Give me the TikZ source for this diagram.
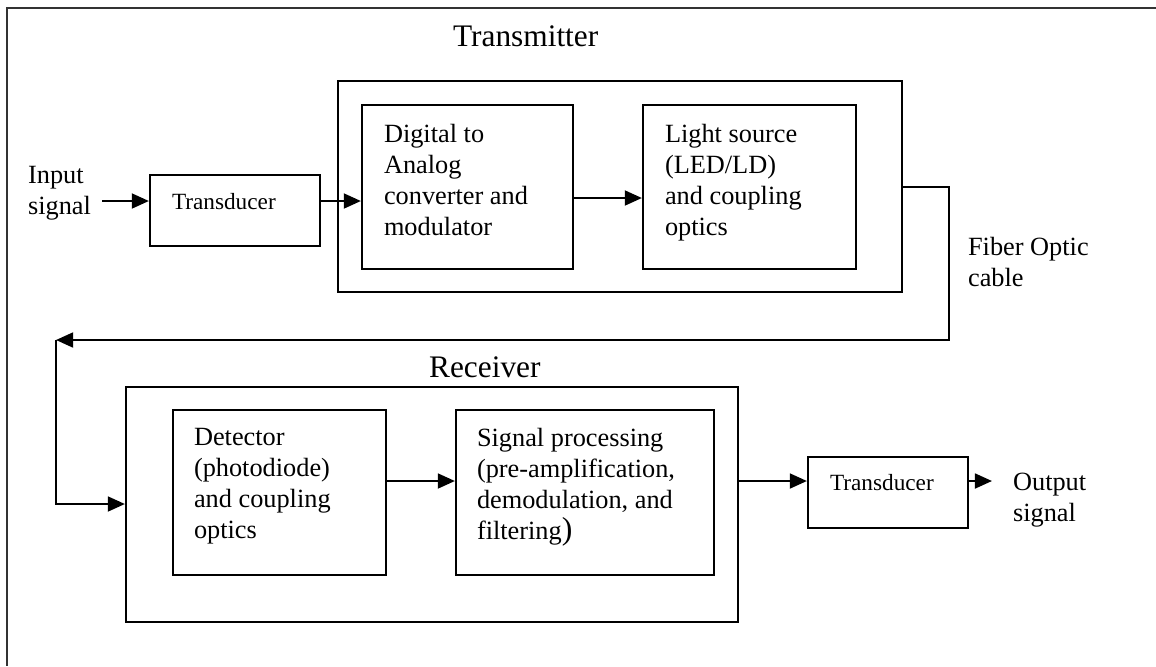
\documentclass[tikz,border=0pt]{standalone}
\usepackage{fontspec}
\setmainfont{Liberation Serif}
\usetikzlibrary{arrows.meta,fit}

\tikzset{
  blk/.style={draw, inner sep=0pt},
  txt/.style={anchor=north west, inner sep=0pt, align=left, font=\fontsize{12}{14.1}\selectfont},
  small/.style={txt, font=\fontsize{10.6}{12}\selectfont},
  head/.style={txt, font=\fontsize{14.3}{16}\selectfont},
  arr/.style={-{Triangle[length=7.8pt,width=6.8pt]}}
}

\begin{document}
\begin{tikzpicture}[x=0.456pt, y=-0.456pt, line width=1pt]
   \useasboundingbox (0,0) rectangle (1156,666);
   % page frame
   \draw[black!80, line width=1.1pt] (1156,8) -- (7,8) -- (7,666);

   % blocks
   \begin{scope}[every node/.style={blk}]
    \node[fit={(338,81) (902,292)}] (tx) {};
    \node[fit={(150,175) (320,246)}] (tdin) {};
    \node[fit={(362,105) (573,269)}] (dac) {};
    \node[fit={(643,105) (856,269)}] (src) {};
    \node[fit={(126,387) (738,622)}] (rx) {};
    \node[fit={(173,410) (386,575)}] (det) {};
    \node[fit={(456,410) (714,575)}] (dsp) {};
    \node[fit={(808,457) (968,528)}] (tdout) {};
   \end{scope}

   % texts
   \begin{scope}[every node/.style={txt}]
    \node[head] (txtitle) at (452,25) {Transmitter};
    \node[head] (rxtitle) at (428,356) {Receiver};
    \node (intxt) at (27,165) {Input\\signal};
    \node (fibtxt) at (967,236) {Fiber Optic\\cable};
    \node (outtxt) at (1012,472) {Output\\signal};
    \node[small] (tdintxt) at ([shift={(22,18)}]tdin.north west) {Transducer};
    \node (dactxt) at ([shift={(22,19)}]dac.north west) {Digital to\\Analog\\converter and\\modulator};
    \node (srctxt) at ([shift={(22,19)}]src.north west) {Light source\\(LED/LD)\\and coupling\\optics};
    \node (dettxt) at ([shift={(21,18)}]det.north west) {Detector\\(photodiode)\\and coupling\\optics};
    \node (dsptxt) at ([shift={(21,18)}]dsp.north west) {Signal processing\\(pre-amplification,\\demodulation, and\\filtering{\fontsize{14.5}{14.1}\selectfont)}};
    \node[small] (tdouttxt) at ([shift={(22,17)}]tdout.north west) {Transducer};
   \end{scope}

   % signal path
   \coordinate (inpt) at (102,201);
   \coordinate (yb) at (0,198);
   \coordinate (yc) at (0,187);
   \coordinate (fibr) at (949,340);
   \coordinate (fibl) at (56,340);
   \coordinate (ye) at (0,504);
   \coordinate (yd) at (0,481);
   \coordinate (outpt) at (992,481);

   \draw[arr] (inpt) -- (tdin.west |- inpt);
   \draw[arr] (tdin.east |- inpt) -- (dac.west |- inpt);
   \draw[arr] (dac.east |- yb) -- (src.west |- yb);
   \draw[arr] (tx.east |- yc) -| (fibr) -- (fibl);
   \draw[arr] (fibl) |- (rx.west |- ye);
   \draw[arr] (det.east |- yd) -- (dsp.west |- yd);
   \draw[arr] (rx.east |- yd) -- (tdout.west |- yd);
   \draw[arr] (tdout.east |- yd) -- (outpt);
\end{tikzpicture}
\end{document}
